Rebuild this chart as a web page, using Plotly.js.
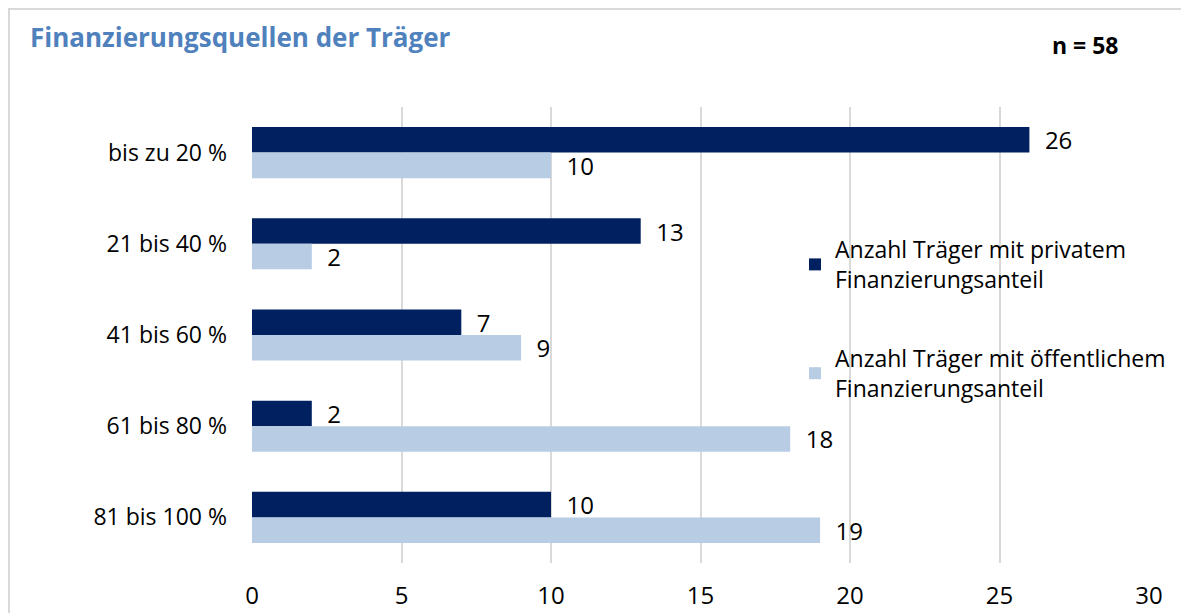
<!DOCTYPE html>
<html>
<head>
<meta charset="utf-8">
<script src="https://cdn.plot.ly/plotly-3.0.1.min.js"></script>
<style>
html, body { margin: 0; padding: 0; overflow: hidden; background: #fff; }
#chart { width: 1181px; height: 613px; }
#frame { position: absolute; left: 8px; top: 8px; width: 1300px; height: 700px; border: 2px solid #d9d9d9; pointer-events: none; }
</style>
</head>
<body>
<div id="chart"></div>
<div id="frame"></div>
<script>
const categories = ["bis zu 20 %", "21 bis 40 %", "41 bis 60 %", "61 bis 80 %", "81 bis 100 %"];
const privatValues = [26, 13, 7, 2, 10];
const oeffentlichValues = [10, 2, 9, 18, 19];
const seriesNames = ["Anzahl Träger mit privatem<br>Finanzierungsanteil", "Anzahl Träger mit öffentlichem<br>Finanzierungsanteil"];
const xTicks = [0, 5, 10, 15, 20, 25, 30];

const FONT = "'Open Sans', Lato, sans-serif";

const traces = [
  {
    type: "bar", orientation: "h", name: seriesNames[0], legendgroup: "a",
    y: categories, x: privatValues,
    marker: { color: "#002060" },
    text: privatValues.map(v => "\u00a0\u00a0" + v), textposition: "outside",
    constraintext: "none",
    textfont: { family: FONT, size: 24, color: "#000" }, cliponaxis: false
  },
  {
    type: "bar", orientation: "h", name: seriesNames[1], legendgroup: "b",
    y: categories, x: oeffentlichValues,
    marker: { color: "#B8CCE4" },
    text: oeffentlichValues.map(v => "\u00a0\u00a0" + v), textposition: "outside",
    constraintext: "none",
    textfont: { family: FONT, size: 24, color: "#000" }, cliponaxis: false
  }
];

const layout = {
  width: 1181, height: 613,
  margin: { l: 252, r: 32, t: 107, b: 50, autoexpand: false },
  paper_bgcolor: "#fff", plot_bgcolor: "#fff",
  font: { family: FONT, size: 20, color: "#000" },
  barmode: "group", bargap: 0.44, bargroupgap: 0,
  title: {
    text: "<b>Finanzierungsquellen der Träger</b>",
    xref: "container", yref: "container", x: 30/1181, xanchor: "left",
    y: 1 - 38/613, yanchor: "middle",
    font: { family: FONT, size: 26, color: "#4F81BD" }
  },
  xaxis: {
    range: [0, 30], tickvals: xTicks, ticktext: xTicks.map(String),
    showgrid: true, gridcolor: "#d9d9d9", gridwidth: 2,
    zeroline: false, showline: false, ticks: "",
    ticklabelstandoff: 16, automargin: false,
    tickfont: { family: FONT, size: 24, color: "#000" }
  },
  yaxis: {
    autorange: "reversed", showgrid: false, zeroline: false, showline: false,
    ticks: "", ticklabelstandoff: 24, automargin: false,
    tickfont: { family: FONT, size: 23, color: "#000" }
  },
  showlegend: true,
  legend: {
    xref: "container", yref: "container",
    x: 795/1181, y: 1 - 228/613, xanchor: "left", yanchor: "top",
    traceorder: "grouped", tracegroupgap: 46,
    bgcolor: "rgba(0,0,0,0)",
    font: { family: FONT, size: 23, color: "#000" }
  },
  annotations: [{
    text: "<b>n = 58</b>", xref: "paper", yref: "paper",
    x: (1085-252)/897, y: (563-45)/456, xanchor: "center", yanchor: "middle",
    showarrow: false, font: { family: FONT, size: 23, color: "#000" }
  }]
};

Plotly.newPlot("chart", traces, layout, { displayModeBar: false, staticPlot: true });
</script>
</body>
</html>
